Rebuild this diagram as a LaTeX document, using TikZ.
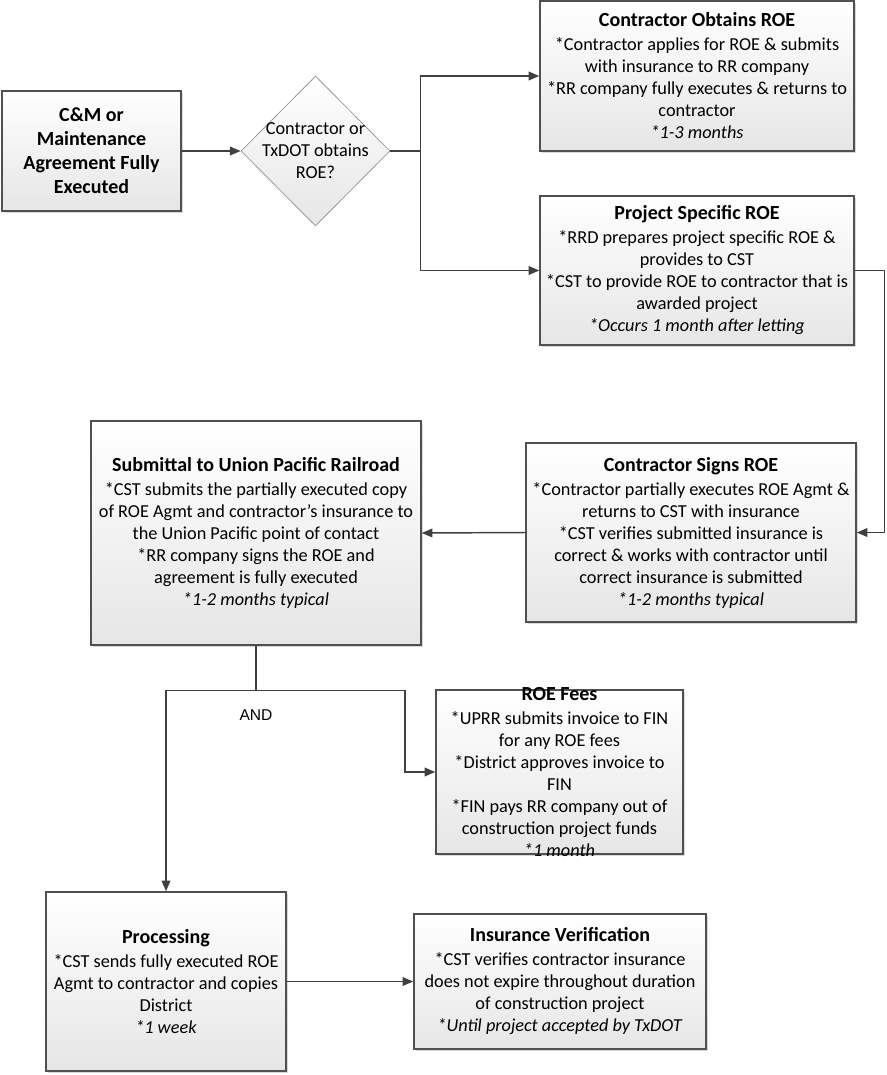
\documentclass[tikz,border=0pt]{standalone}
\usepackage{fontspec}
\setmainfont{Carlito}
\newfontfamily\andfont{Liberation Sans}
\usetikzlibrary{arrows.meta,positioning,shapes.geometric,shadows}
\definecolor{edge}{HTML}{505050}
\definecolor{conn}{HTML}{404040}
\definecolor{shadebot}{HTML}{E6E6E6}
\definecolor{shadowgray}{HTML}{D9D9D9}
\definecolor{diaedge}{HTML}{999999}
\newcommand{\boxhead}[1]{{\fontsize{15}{18}\selectfont\bfseries #1}}
\tikzset{
  box/.style={draw=edge, line width=1.1pt, top color=white, bottom color=shadebot,
    align=center, inner xsep=1pt, inner ysep=2pt, font=\fontsize{13.7}{16.5}\selectfont,
    drop shadow={shadow xshift=1.2pt, shadow yshift=-1.2pt, fill=shadowgray, opacity=1}},
  startbox/.style={font=\fontsize{15}{18}\selectfont\bfseries},
  decision/.style={diamond, draw=diaedge, line width=0.6pt, top color=white, bottom color=shadebot,
    minimum width=111.75pt, minimum height=112.5pt, inner sep=0pt},
  boxtext/.style={align=center, inner sep=0pt, font=\fontsize{13.7}{16.5}\selectfont},
  link/.style={draw=conn, line width=1.1pt},
  flow/.style={link, -{Triangle[length=8pt,width=6.5pt]}},
  andlab/.style={font=\andfont\fontsize{11.7}{13}\selectfont, inner sep=0pt},
}
\begin{document}
\begin{tikzpicture}[x=0.75pt, y=-0.75pt]
\useasboundingbox (0,0) rectangle (886,1075);

% start and decision
\node[box, startbox, minimum width=134.25pt, minimum height=90pt] (start) at (91.5,151)
  {C\&M or\\Maintenance\\Agreement Fully\\Executed};
\node[decision] (roeq) at (315.5,151) {};
\node[boxtext] (roeqtext) at (roeq) {Contractor or\\TxDOT obtains\\ROE?};

% the two ROE routes
\node[box, minimum width=235.5pt, minimum height=112.5pt] (obtain) at (697,76)
  {\boxhead{Contractor Obtains ROE}\\[1.5pt]*Contractor applies for ROE \& submits\\with insurance to RR company\\*RR company fully executes \& returns to\\contractor\\\textit{*1-3 months}};
\node[box, minimum width=235.5pt, minimum height=111.75pt] (specific) at (697,270.5)
  {\boxhead{Project Specific ROE}\\[1.5pt]*RRD prepares project specific ROE \&\\provides to CST\\*CST to provide ROE to contractor that is\\awarded project\\\textit{*Occurs 1 month after letting}};

% signing and submittal
\node[box, minimum width=247.5pt, minimum height=134.25pt] (signs) at (691,532.5)
  {\boxhead{Contractor Signs ROE}\\[1.5pt]*Contractor partially executes ROE Agmt \&\\returns to CST with insurance\\*CST verifies submitted insurance is\\correct \& works with contractor until\\correct insurance is submitted\\\textit{*1-2 months typical}};
\node[box, minimum width=247.5pt, minimum height=168pt] (submit) at (256,533)
  {\boxhead{Submittal to Union Pacific Railroad}\\[1.5pt]*CST submits the partially executed copy\\of ROE Agmt and contractor’s insurance to\\the Union Pacific point of contact\\*RR company signs the ROE and\\agreement is fully executed\\\textit{*1-2 months typical}};

% fees, processing, insurance
\node[box, minimum width=185.25pt, minimum height=123pt] (fees) at (559.5,772) {};
\node[boxtext] (feestext) at (fees)
  {\boxhead{ROE Fees}\\[1.5pt]*UPRR submits invoice to FIN\\for any ROE fees\\*District approves invoice to\\FIN\\*FIN pays RR company out of\\construction project funds\\\textit{*1 month}};
\node[box, minimum width=180pt, minimum height=134.25pt] (proc) at (166,981.5)
  {\boxhead{Processing}\\[1.5pt]*CST sends fully executed ROE\\Agmt to contractor and copies\\District\\\textit{*1 week}};
\node[box, minimum width=219pt, minimum height=101.25pt] (insur) at (560,981.5)
  {\boxhead{Insurance Verification}\\[1.5pt]*CST verifies contractor insurance\\does not expire throughout duration\\of construction project\\\textit{*Until project accepted by TxDOT}};

% connectors
\draw[flow] (start.east) -- (roeq.west);
\draw[link] (roeq.east) -- ++(30,0) coordinate (split);
\draw[flow] (split) |- (obtain.west);
\draw[flow] (split) |- (specific.west);
\draw[flow] (specific.east) -- ++(30,0) |- (signs.east);
\draw[flow] (signs.west) -- (submit.east);
\draw[link] (submit.south) -- ++(0,45) coordinate (fork);
\draw[flow] (fork) -- ++(149,0) |- (fees.west);
\draw[flow] (fork) -| (proc.north);
\node[andlab, below=14pt of fork] (andtext) {AND};
\draw[flow] (proc.east) -- (insur.west);
\end{tikzpicture}
\end{document}
